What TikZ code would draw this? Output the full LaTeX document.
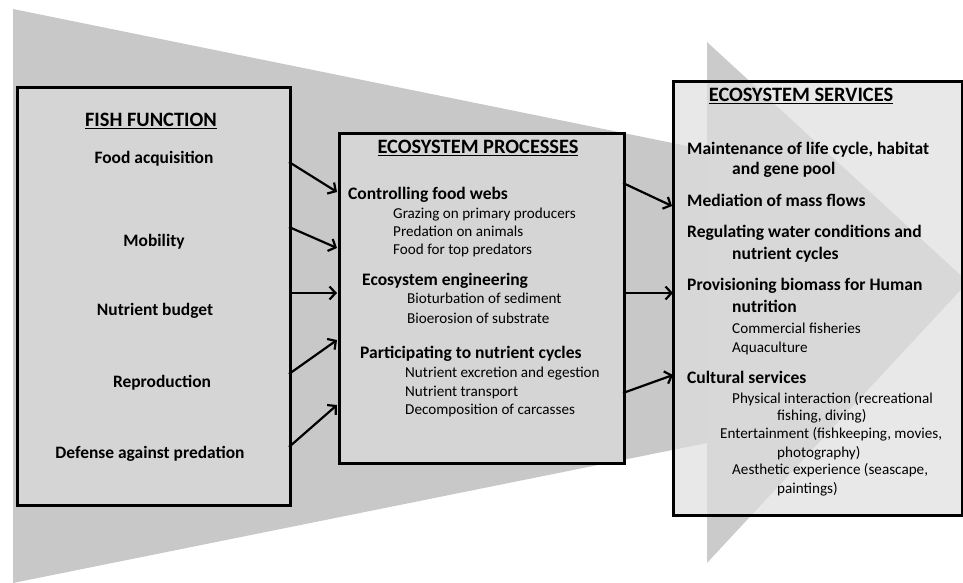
\documentclass[tikz,border=0pt]{standalone}
\usepackage{fontspec}
\setmainfont{Carlito}
\usetikzlibrary{arrows.meta}
\definecolor{trap}{RGB}{200,200,200}
\definecolor{tri}{RGB}{203,203,203}
\definecolor{boxg}{RGB}{213,213,213}
\definecolor{svc}{RGB}{222,222,222}
\begin{document}
\begin{tikzpicture}[x=1bp,y=-1bp,
  box/.style={draw=black, line width=2.6bp, inner sep=0pt, anchor=north west},
  txt/.style={inner sep=0pt, text height=1.6ex, text depth=0.4ex, yshift=-4bp},
  hd/.style={txt, font=\bfseries\fontsize{20.5}{24}\selectfont},
  itm/.style={txt, font=\bfseries\fontsize{17.5}{21}\selectfont},
  pb/.style={txt, anchor=west, font=\bfseries\fontsize{17.6}{21}\selectfont},
  pr/.style={txt, anchor=west, font=\fontsize{15.2}{18}\selectfont},
  arr/.style={line width=2.2bp, -{Straight Barb[length=6bp,width=13bp]}}]
\useasboundingbox (0,0) rectangle (963,583);
\begin{scope}
\clip (0,0) rectangle (963,583);
\fill[trap] (13,9) -- (707,150) -- (707,443) -- (13,583) -- cycle;
\fill[tri] (707,42) -- (968,282) -- (707,563) -- cycle;
\end{scope}
% boxes
\node[box, fill=boxg, minimum width=273bp, minimum height=418bp] (fish) at (16,86) {};
\node[box, fill=boxg, minimum width=285bp, minimum height=330bp] (proc) at (338,132) {};
\node[box, fill=svc, fill opacity=0.7, draw opacity=1, minimum width=289bp, minimum height=434bp] (serv) at (672,80) {};
% fish function
\node[hd] (fh) at (151,120) {\underline{FISH FUNCTION}};
\node[itm] (f1) at (154,157) {Food acquisition};
\node[itm] (f2) at (154,240) {Mobility};
\node[itm] (f3) at (155,309) {Nutrient budget};
\node[itm] (f4) at (162,381) {Reproduction};
\node[itm] (f5) at (150,452) {Defense against predation};
% processes
\node[hd] (ph) at (478,147) {\underline{ECOSYSTEM PROCESSES}};
\node[pb] (p1) at (348,193) {Controlling food webs};
\node[pr] (p1a) at (393,212) {Grazing on primary producers};
\node[pr] (p1b) at (393,230) {Predation on animals};
\node[pr] (p1c) at (393,248) {Food for top predators};
\node[pb] (p2) at (362,279) {Ecosystem engineering};
\node[pr] (p2a) at (407,297) {Bioturbation of sediment};
\node[pr] (p2b) at (407,317) {Bioerosion of substrate};
\node[pb] (p3) at (360,352) {Participating to nutrient cycles};
\node[pr] (p3a) at (405,371) {Nutrient excretion and egestion};
\node[pr] (p3b) at (405,390) {Nutrient transport};
\node[pr] (p3c) at (405,408) {Decomposition of carcasses};
% services
\node[hd] (sh) at (801,95) {\underline{ECOSYSTEM SERVICES}};
\node[pb] (s1) at (687,148) {Maintenance of life cycle, habitat};
\node[pb] (s1b) at (732,168) {and gene pool};
\node[pb] (s2) at (687,200) {Mediation of mass flows};
\node[pb] (s3) at (687,231) {Regulating water conditions and};
\node[pb] (s3b) at (732,253) {nutrient cycles};
\node[pb] (s4) at (687,284) {Provisioning biomass for Human};
\node[pb] (s4b) at (732,306) {nutrition};
\node[pr] (s4c) at (732,327) {Commercial fisheries};
\node[pr] (s4d) at (732,346) {Aquaculture};
\node[pb] (s5) at (687,377) {Cultural services};
\node[pr] (s5a) at (732,397) {Physical interaction (recreational};
\node[pr] (s5b) at (777,414) {fishing, diving)};
\node[pr] (s5c) at (720,432) {Entertainment (fishkeeping, movies,};
\node[pr] (s5d) at (777,451) {photography)};
\node[pr] (s5e) at (732,468) {Aesthetic experience (seascape,};
\node[pr] (s5f) at (777,487) {paintings)};
% arrow end points
\coordinate (a1s) at (289,162); \coordinate (a1e) at (337,192);
\coordinate (a2s) at (289,227); \coordinate (a2e) at (337,248);
\coordinate (a3s) at (289,293); \coordinate (a3e) at (337,293);
\coordinate (a4s) at (289,374); \coordinate (a4e) at (337,340);
\coordinate (a5s) at (289,447); \coordinate (a5e) at (337,405);
\coordinate (b1s) at (623,183); \coordinate (b1e) at (672,206);
\coordinate (b2s) at (626,293); \coordinate (b2e) at (673,293);
\coordinate (b3s) at (623,393); \coordinate (b3e) at (673,375);
\draw[arr] (a1s) -- (a1e);
\draw[arr] (a2s) -- (a2e);
\draw[arr] (a3s) -- (a3e);
\draw[arr] (a4s) -- (a4e);
\draw[arr] (a5s) -- (a5e);
\draw[arr] (b1s) -- (b1e);
\draw[arr] (b2s) -- (b2e);
\draw[arr] (b3s) -- (b3e);
\end{tikzpicture}
\end{document}
